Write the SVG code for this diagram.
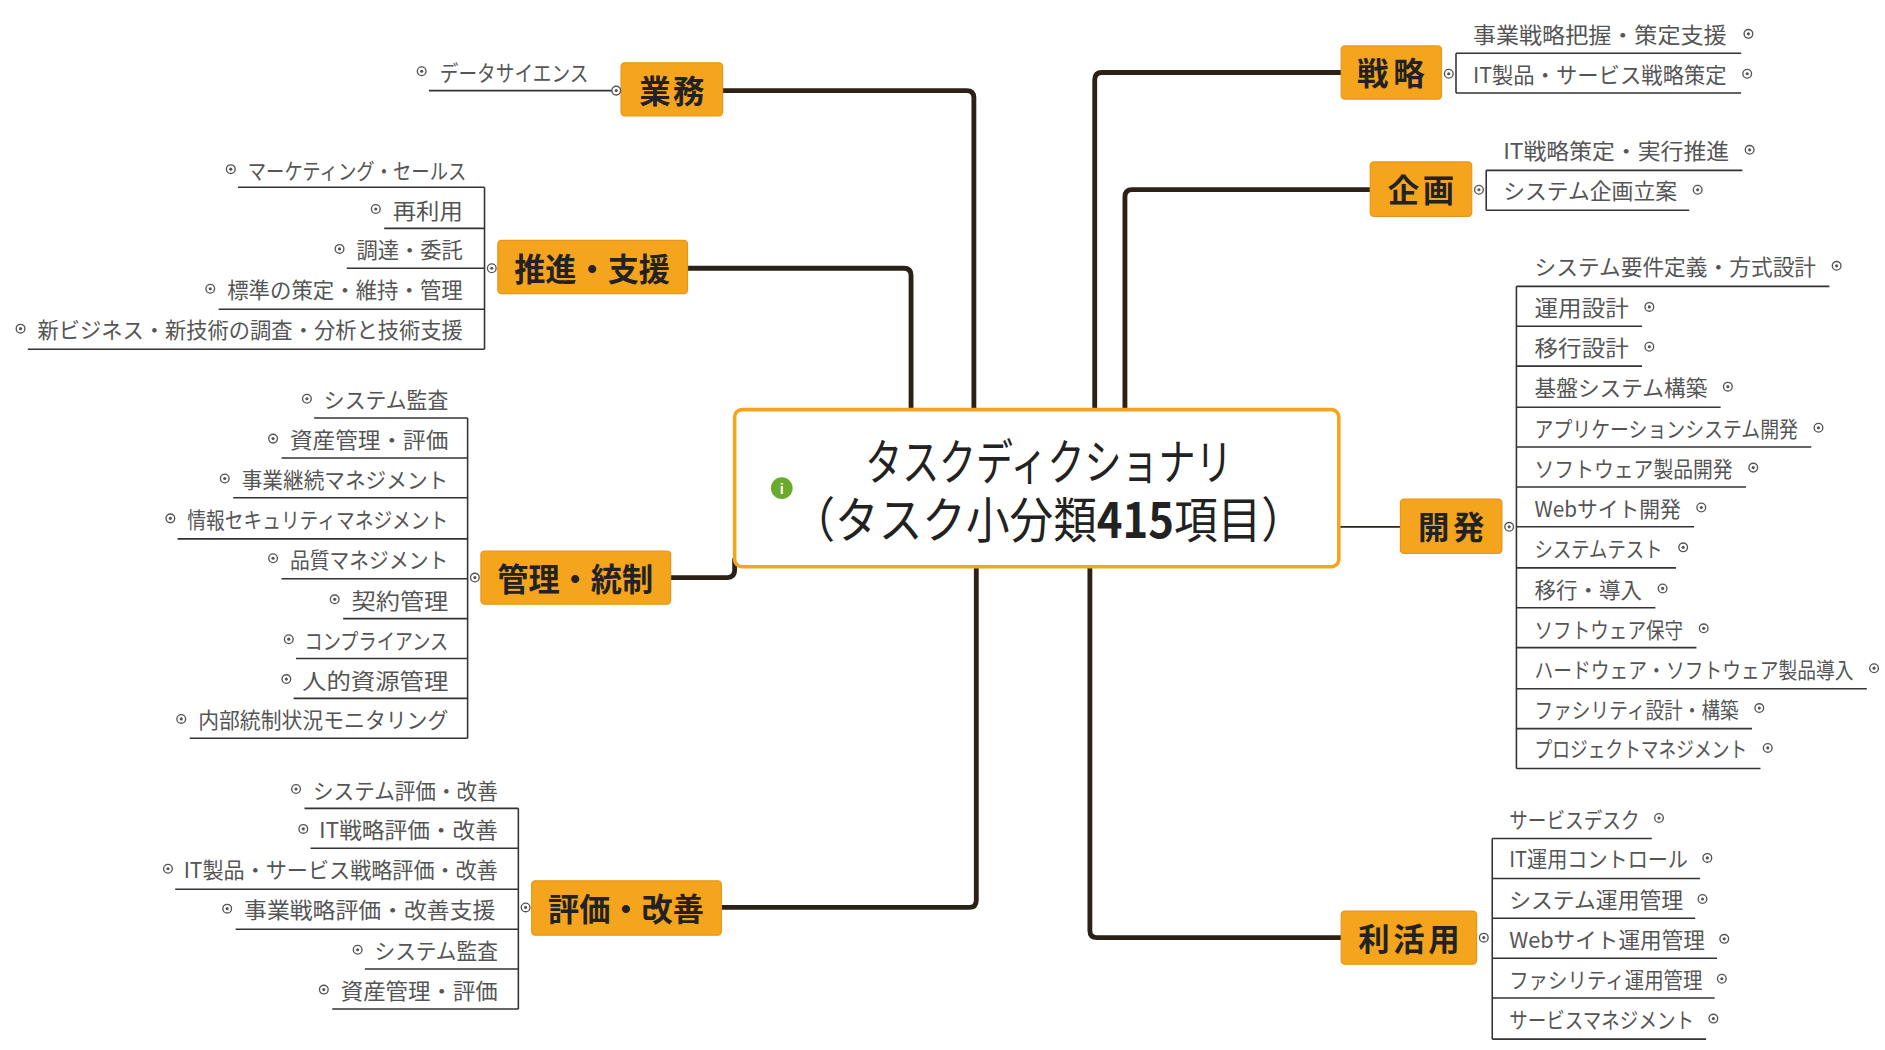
<svg xmlns="http://www.w3.org/2000/svg" xmlns:xlink="http://www.w3.org/1999/xlink" width="1885" height="1050" viewBox="0 0 1885 1050">
<style>
.t{font-family:"Noto Sans CJK JP","Noto Sans",sans-serif;font-size:18px;fill:#555;dominant-baseline:central}
.b{font-family:"Noto Sans CJK JP","Noto Sans",sans-serif;font-size:26px;font-weight:bold;fill:#222;text-anchor:middle;dominant-baseline:central}
.bx{fill:#F5A41E;stroke:#E8961A;stroke-width:1}
.c{fill:none;stroke:#2b2117;stroke-width:4;stroke-linejoin:round}
.u{fill:none;stroke:#333;stroke-width:1.3}
</style>
<defs>
<g id="m"><circle r="3.6" fill="#fff" stroke="#555" stroke-width="1.1"/><circle r="1.3" fill="#555"/></g>
</defs>
<rect width="1885" height="1050" fill="#fff"/>
<g transform="scale(1.2083)">
<g id="connectors">
<path class="c" d="M598,75 H800 Q806,75 806,81 V339"/>
<path class="c" d="M569,222 H748 Q754,222 754,228 V339"/>
<path class="c" d="M555,478 H602 Q608,478 608,472 V462"/>
<path class="c" d="M597,751 H802 Q808,751 808,745 V469"/>
<path class="c" d="M1110,60 H912 Q906,60 906,66 V339"/>
<path class="c" d="M1134,157 H937 Q931,157 931,163 V339"/>
<path class="c" d="M1110,776 H908 Q902,776 902,770 V469"/>
<path fill="none" stroke="#2b2117" stroke-width="1.5" d="M1108,436 H1159"/>
</g>
<g id="center">
<rect x="608" y="339" width="500" height="130" rx="6" fill="#fff" stroke="#F5A41E" stroke-width="3"/>
<circle cx="647" cy="404" r="9" fill="#6aab2e"/><text x="647" y="405" font-family="Liberation Sans,sans-serif" font-size="12" fill="#fff" text-anchor="middle" dominant-baseline="central" font-weight="bold">i</text>
<text x="716" y="380" textLength="304" lengthAdjust="spacingAndGlyphs" font-family="Noto Sans CJK JP,sans-serif" font-size="40" fill="#222" dominant-baseline="central">タスクディクショナリ</text>
<text x="655" y="428" textLength="425" lengthAdjust="spacingAndGlyphs" font-family="Noto Sans CJK JP,sans-serif" font-size="40" fill="#222" dominant-baseline="central">（タスク小分類<tspan font-weight="bold">415</tspan>項目）</text>
</g>

<g id="gyomu">
<rect class="bx" x="514" y="52" width="84" height="44" rx="3"/><text class="b" x="556" y="74" textLength="54">業務</text>
<path class="u" d="M355,75 H510"/><use xlink:href="#m" x="510" y="75"/>
<use xlink:href="#m" x="349" y="59"/><text class="t" x="364" y="59" textLength="123" lengthAdjust="spacingAndGlyphs">データサイエンス</text>
</g>

<g id="suishin">
<rect class="bx" x="412" y="199" width="157" height="44" rx="3"/><text class="b" x="490" y="221" textLength="129" lengthAdjust="spacingAndGlyphs">推進・支援</text>
<path class="u" d="M401,155 V289 M197,155 H401 M318,189 H401 M287,222 H401 M181,256 H401 M23,289 H401"/>
<use xlink:href="#m" x="407" y="222"/>
<use xlink:href="#m" x="191" y="140"/><text class="t" x="205" y="140" textLength="181" lengthAdjust="spacingAndGlyphs">マーケティング・セールス</text>
<use xlink:href="#m" x="311" y="173"/><text class="t" x="325" y="173" textLength="58" lengthAdjust="spacingAndGlyphs">再利用</text>
<use xlink:href="#m" x="281" y="206"/><text class="t" x="295" y="206" textLength="88" lengthAdjust="spacingAndGlyphs">調達・委託</text>
<use xlink:href="#m" x="174" y="239"/><text class="t" x="188" y="239" textLength="195" lengthAdjust="spacingAndGlyphs">標準の策定・維持・管理</text>
<use xlink:href="#m" x="17" y="272"/><text class="t" x="31" y="272" textLength="352" lengthAdjust="spacingAndGlyphs">新ビジネス・新技術の調査・分析と技術支援</text>
</g>

<g id="kanri">
<rect class="bx" x="398" y="456" width="157" height="44" rx="3"/><text class="b" x="476" y="478" textLength="129" lengthAdjust="spacingAndGlyphs">管理・統制</text>
<path class="u" d="M387,346 V611 M260,346 H387 M233,379 H387 M193,412 H387 M147,446 H387 M233,479 H387 M284,512 H387 M245,545 H387 M243,578 H387 M157,611 H387"/>
<use xlink:href="#m" x="393" y="478"/>
<use xlink:href="#m" x="254" y="330"/><text class="t" x="268" y="330" textLength="103" lengthAdjust="spacingAndGlyphs">システム監査</text>
<use xlink:href="#m" x="226" y="363"/><text class="t" x="240" y="363" textLength="131" lengthAdjust="spacingAndGlyphs">資産管理・評価</text>
<use xlink:href="#m" x="186" y="396"/><text class="t" x="200" y="396" textLength="171" lengthAdjust="spacingAndGlyphs">事業継続マネジメント</text>
<use xlink:href="#m" x="141" y="429"/><text class="t" x="155" y="429" textLength="216" lengthAdjust="spacingAndGlyphs">情報セキュリティマネジメント</text>
<use xlink:href="#m" x="226" y="462"/><text class="t" x="240" y="462" textLength="131" lengthAdjust="spacingAndGlyphs">品質マネジメント</text>
<use xlink:href="#m" x="277" y="496"/><text class="t" x="291" y="496" textLength="80" lengthAdjust="spacingAndGlyphs">契約管理</text>
<use xlink:href="#m" x="239" y="529"/><text class="t" x="252" y="529" textLength="119" lengthAdjust="spacingAndGlyphs">コンプライアンス</text>
<use xlink:href="#m" x="237" y="562"/><text class="t" x="250" y="562" textLength="121" lengthAdjust="spacingAndGlyphs">人的資源管理</text>
<use xlink:href="#m" x="150" y="595"/><text class="t" x="164" y="595" textLength="207" lengthAdjust="spacingAndGlyphs">内部統制状況モニタリング</text>
</g>

<g id="hyoka">
<rect class="bx" x="440" y="729" width="157" height="45" rx="3"/><text class="b" x="518" y="751" textLength="129" lengthAdjust="spacingAndGlyphs">評価・改善</text>
<path class="u" d="M429,669 V835 M252,669 H429 M257,702 H429 M145,736 H429 M195,769 H429 M302,802 H429 M275,835 H429"/>
<use xlink:href="#m" x="435" y="751"/>
<use xlink:href="#m" x="245" y="653"/><text class="t" x="259" y="653" textLength="153" lengthAdjust="spacingAndGlyphs">システム評価・改善</text>
<use xlink:href="#m" x="251" y="686"/><text class="t" x="264" y="686" textLength="148" lengthAdjust="spacingAndGlyphs">IT戦略評価・改善</text>
<use xlink:href="#m" x="139" y="719"/><text class="t" x="152" y="719" textLength="260" lengthAdjust="spacingAndGlyphs">IT製品・サービス戦略評価・改善</text>
<use xlink:href="#m" x="188" y="752"/><text class="t" x="202" y="752" textLength="208" lengthAdjust="spacingAndGlyphs">事業戦略評価・改善支援</text>
<use xlink:href="#m" x="296" y="786"/><text class="t" x="310" y="786" textLength="102" lengthAdjust="spacingAndGlyphs">システム監査</text>
<use xlink:href="#m" x="268" y="819"/><text class="t" x="282" y="819" textLength="130" lengthAdjust="spacingAndGlyphs">資産管理・評価</text>
</g>

<g id="senryaku">
<rect class="bx" x="1110" y="38" width="83" height="44" rx="3"/><text class="b" x="1151" y="59" textLength="56">戦略</text>
<path class="u" d="M1205,44 V77 M1205,44 H1441 M1205,77 H1441"/>
<use xlink:href="#m" x="1199" y="61"/>
<text class="t" x="1219" y="28" textLength="210" lengthAdjust="spacingAndGlyphs">事業戦略把握・策定支援</text><use xlink:href="#m" x="1447" y="28"/>
<text class="t" x="1219" y="61" textLength="210" lengthAdjust="spacingAndGlyphs">IT製品・サービス戦略策定</text><use xlink:href="#m" x="1446" y="61"/>
</g>

<g id="kikaku">
<rect class="bx" x="1134" y="134" width="84" height="45" rx="3"/><text class="b" x="1176" y="156" textLength="55">企画</text>
<path class="u" d="M1230,141 V174 M1230,141 H1442 M1230,174 H1398"/>
<use xlink:href="#m" x="1224" y="157"/>
<text class="t" x="1244" y="124" textLength="187" lengthAdjust="spacingAndGlyphs">IT戦略策定・実行推進</text><use xlink:href="#m" x="1448" y="124"/>
<text class="t" x="1244" y="157" textLength="144" lengthAdjust="spacingAndGlyphs">システム企画立案</text><use xlink:href="#m" x="1405" y="157"/>
</g>

<g id="kaihatsu">
<rect class="bx" x="1159" y="413" width="84" height="45" rx="3"/><text class="b" x="1201" y="435" textLength="55">開発</text>
<path class="u" d="M1255,237 V636 M1255,237 H1514 M1255,270 H1359 M1255,303 H1359 M1255,337 H1424 M1255,370 H1499 M1255,403 H1445 M1255,436 H1402 M1255,470 H1387 M1255,503 H1370 M1255,536 H1404 M1255,570 H1545 M1255,603 H1450 M1255,636 H1457"/>
<use xlink:href="#m" x="1249" y="436"/>
<text class="t" x="1270" y="220" textLength="233" lengthAdjust="spacingAndGlyphs">システム要件定義・方式設計</text><use xlink:href="#m" x="1520" y="220"/>
<text class="t" x="1270" y="254" textLength="78" lengthAdjust="spacingAndGlyphs">運用設計</text><use xlink:href="#m" x="1365" y="254"/>
<text class="t" x="1270" y="287" textLength="78" lengthAdjust="spacingAndGlyphs">移行設計</text><use xlink:href="#m" x="1365" y="287"/>
<text class="t" x="1270" y="320" textLength="143" lengthAdjust="spacingAndGlyphs">基盤システム構築</text><use xlink:href="#m" x="1430" y="320"/>
<text class="t" x="1270" y="354" textLength="218" lengthAdjust="spacingAndGlyphs">アプリケーションシステム開発</text><use xlink:href="#m" x="1505" y="354"/>
<text class="t" x="1270" y="387" textLength="164" lengthAdjust="spacingAndGlyphs">ソフトウェア製品開発</text><use xlink:href="#m" x="1451" y="387"/>
<text class="t" x="1270" y="420" textLength="121" lengthAdjust="spacingAndGlyphs">Webサイト開発</text><use xlink:href="#m" x="1408" y="420"/>
<text class="t" x="1270" y="453" textLength="106" lengthAdjust="spacingAndGlyphs">システムテスト</text><use xlink:href="#m" x="1393" y="453"/>
<text class="t" x="1270" y="487" textLength="89" lengthAdjust="spacingAndGlyphs">移行・導入</text><use xlink:href="#m" x="1376" y="487"/>
<text class="t" x="1270" y="520" textLength="123" lengthAdjust="spacingAndGlyphs">ソフトウェア保守</text><use xlink:href="#m" x="1410" y="520"/>
<text class="t" x="1270" y="553" textLength="264" lengthAdjust="spacingAndGlyphs">ハードウェア・ソフトウェア製品導入</text><use xlink:href="#m" x="1551" y="553"/>
<text class="t" x="1270" y="586" textLength="169" lengthAdjust="spacingAndGlyphs">ファシリティ設計・構築</text><use xlink:href="#m" x="1456" y="586"/>
<text class="t" x="1270" y="619" textLength="176" lengthAdjust="spacingAndGlyphs">プロジェクトマネジメント</text><use xlink:href="#m" x="1463" y="619"/>
</g>

<g id="rikatsuyo">
<rect class="bx" x="1110" y="754" width="112" height="44" rx="3"/><text class="b" x="1166" y="776" textLength="84">利活用</text>
<path class="u" d="M1235,694 V860 M1235,694 H1367 M1235,727 H1407 M1235,760 H1403 M1235,793 H1421 M1235,826 H1419 M1235,860 H1412"/>
<use xlink:href="#m" x="1228" y="776"/>
<text class="t" x="1249" y="677" textLength="108" lengthAdjust="spacingAndGlyphs">サービスデスク</text><use xlink:href="#m" x="1373" y="677"/>
<text class="t" x="1249" y="710" textLength="148" lengthAdjust="spacingAndGlyphs">IT運用コントロール</text><use xlink:href="#m" x="1413" y="710"/>
<text class="t" x="1249" y="744" textLength="144" lengthAdjust="spacingAndGlyphs">システム運用管理</text><use xlink:href="#m" x="1409" y="744"/>
<text class="t" x="1249" y="777" textLength="162" lengthAdjust="spacingAndGlyphs">Webサイト運用管理</text><use xlink:href="#m" x="1427" y="777"/>
<text class="t" x="1249" y="810" textLength="160" lengthAdjust="spacingAndGlyphs">ファシリティ運用管理</text><use xlink:href="#m" x="1425" y="810"/>
<text class="t" x="1249" y="843" textLength="153" lengthAdjust="spacingAndGlyphs">サービスマネジメント</text><use xlink:href="#m" x="1418" y="843"/>
</g>
</g>
</svg>
